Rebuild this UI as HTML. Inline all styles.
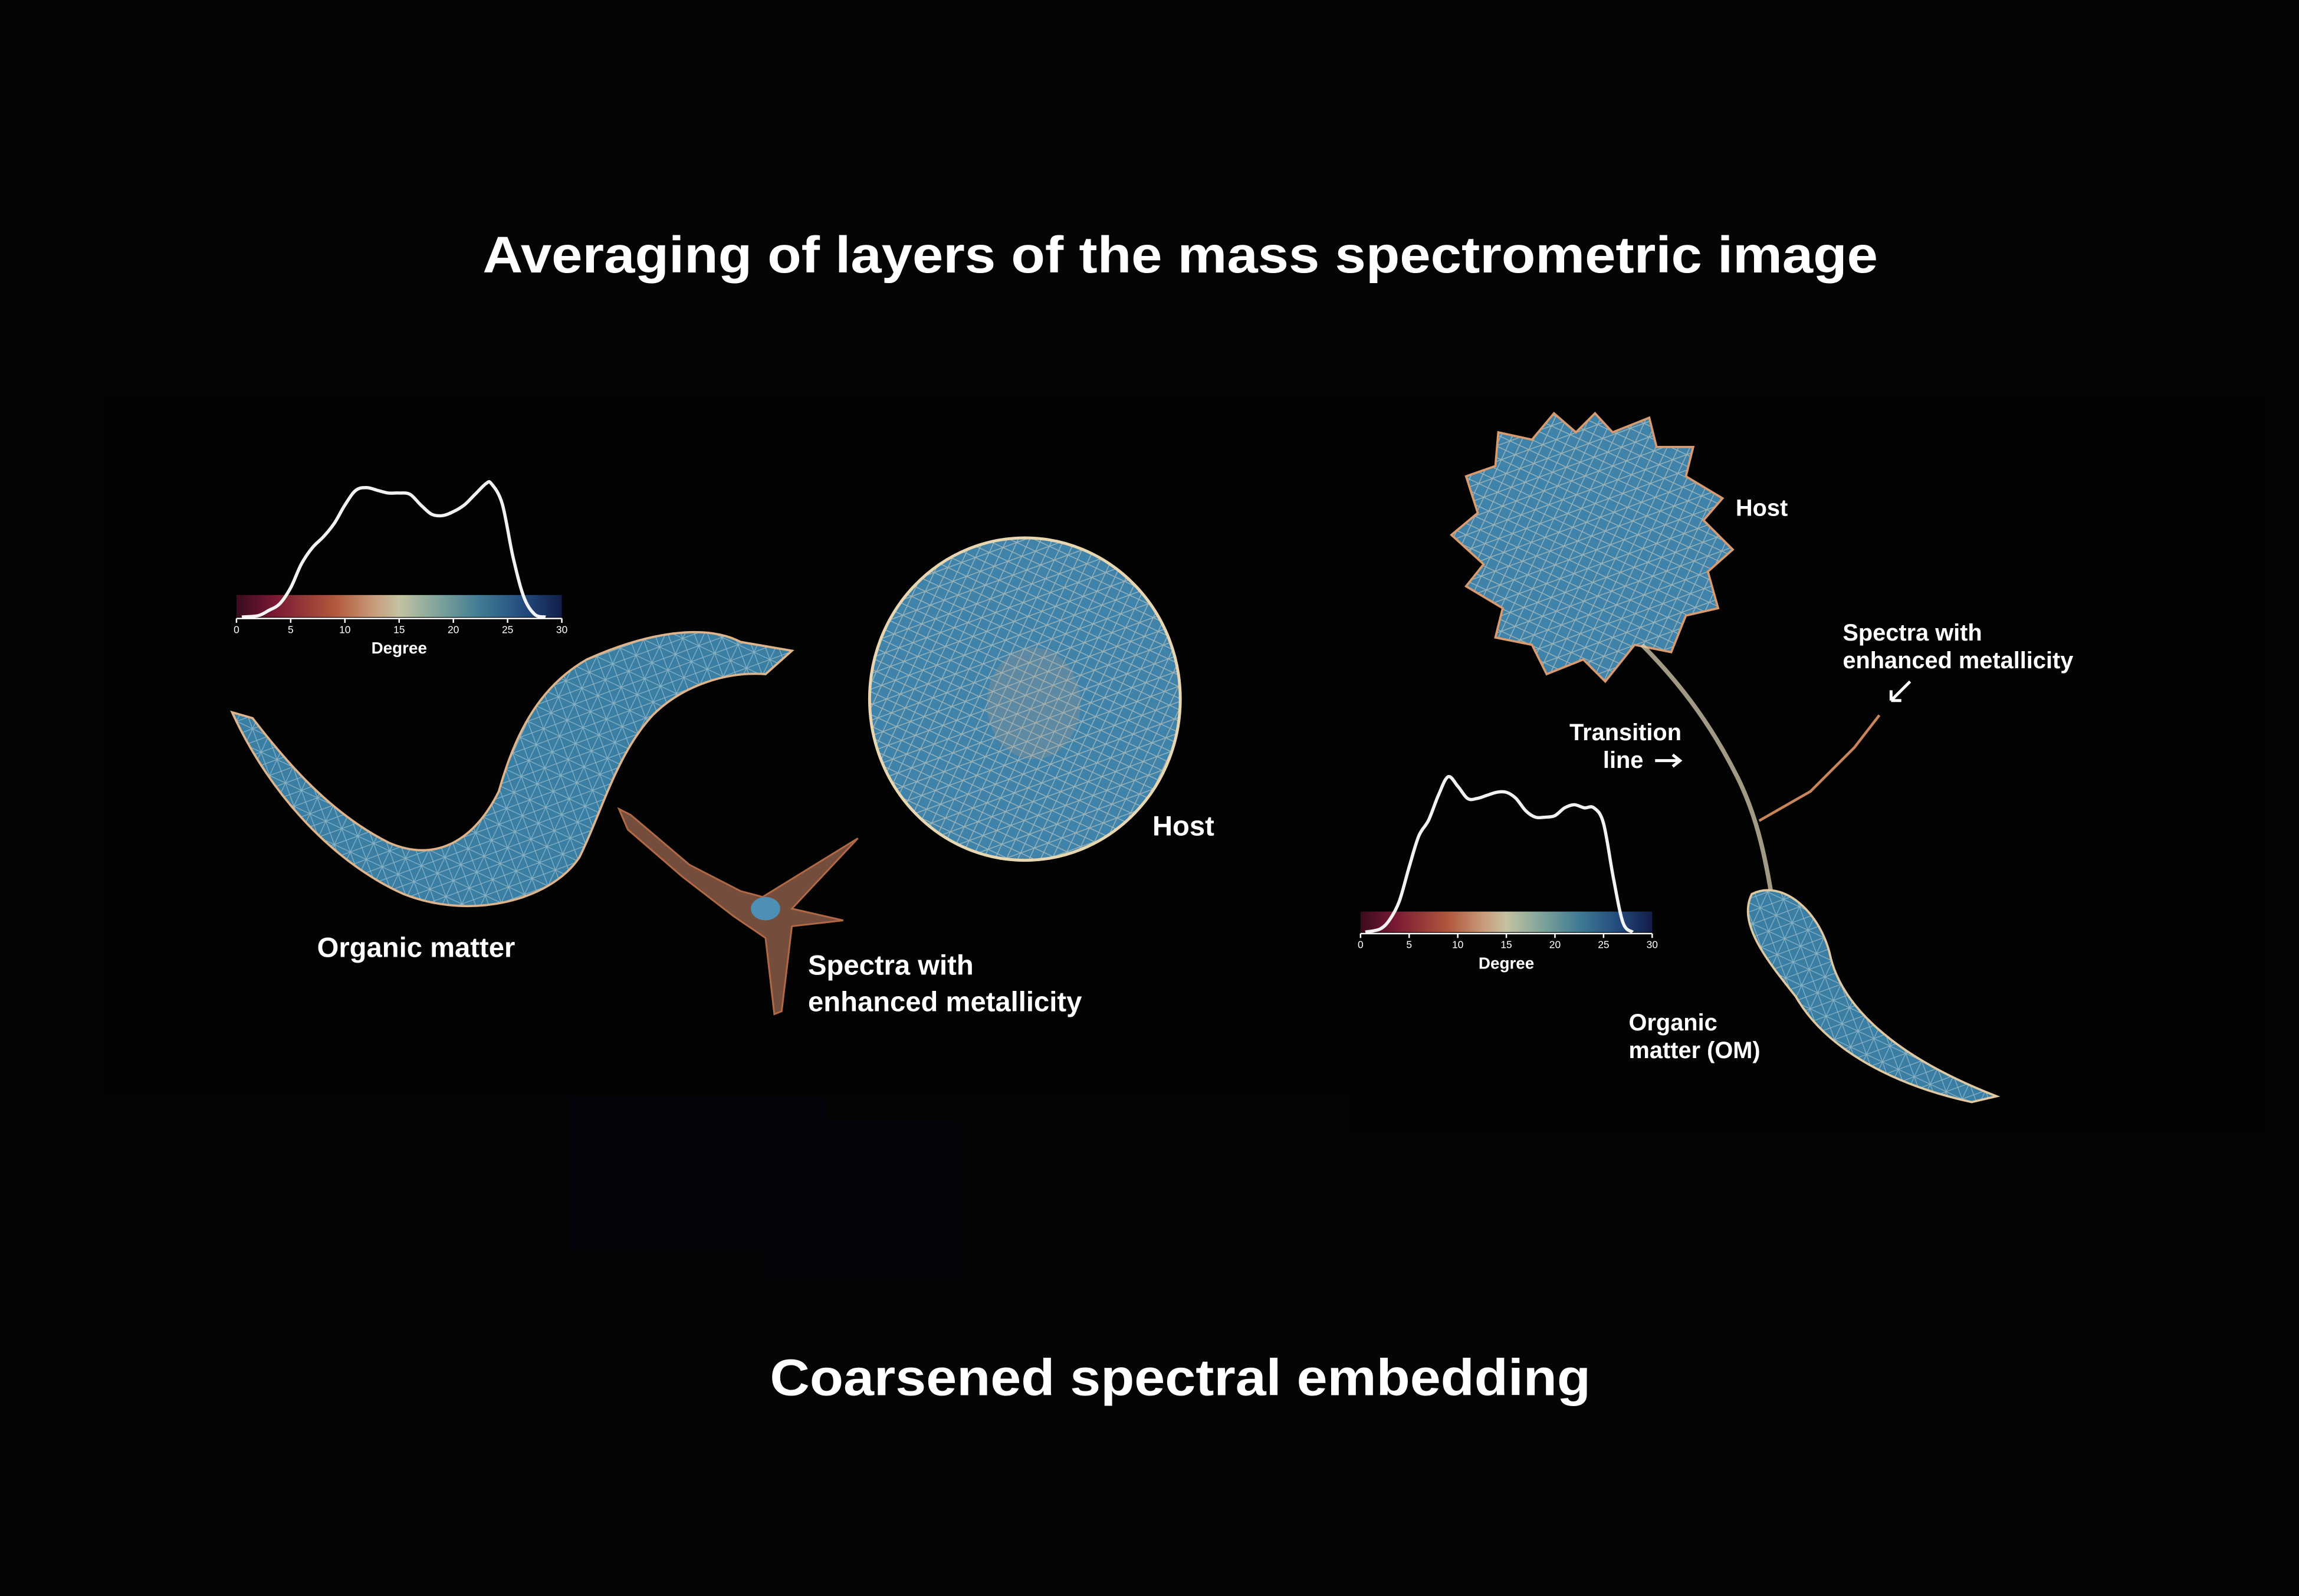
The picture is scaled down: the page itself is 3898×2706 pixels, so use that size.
<!DOCTYPE html>
<html><head><meta charset="utf-8">
<style>
html,body{margin:0;padding:0;background:#050505;}
svg{display:block}
text{font-family:"Liberation Sans",sans-serif;fill:#fff}
</style></head>
<body>
<svg id="fig" width="3898" height="2706" viewBox="0 0 1568 1089" xmlns="http://www.w3.org/2000/svg">
<defs>
<linearGradient id="cmap" x1="0" x2="1" y1="0" y2="0">
<stop offset="0" stop-color="#3a0a1e"/><stop offset="0.12" stop-color="#7a1a34"/>
<stop offset="0.3" stop-color="#b0573c"/><stop offset="0.42" stop-color="#c99a78"/>
<stop offset="0.5" stop-color="#c4c2a2"/><stop offset="0.62" stop-color="#7fa49a"/>
<stop offset="0.75" stop-color="#3f7a93"/><stop offset="0.88" stop-color="#234c7e"/>
<stop offset="1" stop-color="#121d48"/></linearGradient>
<pattern id="mesh" width="12" height="12" patternUnits="userSpaceOnUse" patternTransform="rotate(25)">
<rect width="12" height="12" fill="#3a7fa3"/>
<path d="M0 0L12 12M12 0L0 12M0 6H12M6 0V12" stroke="#d8e4e6" stroke-width="0.5" opacity="0.5"/>
</pattern>
<pattern id="mesh2" width="10" height="10" patternUnits="userSpaceOnUse" patternTransform="rotate(-20)">
<rect width="10" height="10" fill="#3f82aa"/>
<path d="M0 0L10 10M10 0L0 10M0 5H10" stroke="#e6dcc4" stroke-width="0.6" opacity="0.55"/>
</pattern>
</defs>
<rect width="1568" height="1089" fill="#050505"/>
<rect x="70" y="270" width="850" height="478" fill="#030303"/>
<rect x="920" y="270" width="625" height="505" fill="#030303"/>
<rect x="388" y="748" width="175" height="105" fill="#03030a"/>
<rect x="520" y="765" width="135" height="108" fill="#03030a"/>

<text x="805" y="186" font-size="35" font-weight="bold" text-anchor="middle" textLength="952" lengthAdjust="spacingAndGlyphs">Averaging of layers of the mass spectrometric image</text>
<text x="805" y="952" font-size="35" font-weight="bold" text-anchor="middle" textLength="560" lengthAdjust="spacingAndGlyphs">Coarsened spectral embedding</text>

<path d="M158 486 L172 490 C195 520 225 555 265 575 C300 590 325 570 340 540 C350 505 365 470 400 450 C440 432 480 425 505 438 L540 444 L522 460 C495 458 465 468 445 488 C420 515 410 555 395 585 C375 615 320 628 275 610 C230 590 185 545 158 486Z" fill="url(#mesh)" stroke="#e0b48a" stroke-width="1.5"/>
<ellipse cx="699" cy="477" rx="106" ry="110" fill="url(#mesh2)" stroke="#e8d6b0" stroke-width="2"/>
<ellipse cx="705" cy="480" rx="32" ry="38" fill="#c8a68a" opacity="0.22"/>
<path d="M422 552 L430 556 L470 590 L505 608 L520 612 L585 572 L540 620 L575 628 L540 632 L533 690 L528 692 L522 640 L500 625 L465 598 L428 566Z" fill="#8a5a48" stroke="#d07a50" stroke-width="1.2" opacity="0.85"/>
<ellipse cx="522" cy="620" rx="10" ry="8" fill="#4d8fb5"/>

<text x="216" y="653" font-size="19" font-weight="bold">Organic matter</text>
<text x="786" y="570" font-size="19" font-weight="bold">Host</text>
<text x="551" y="665" font-size="19" font-weight="bold">Spectra with</text>
<text x="551" y="690" font-size="19" font-weight="bold">enhanced metallicity</text>

<path d="M1088 282 L1100 295 L1125 285 L1130 305 L1155 305 L1150 325 L1175 340 L1162 355 L1182 375 L1165 390 L1172 415 L1150 420 L1140 445 L1115 440 L1095 465 L1080 450 L1055 460 L1045 440 L1020 435 L1025 415 L1000 400 L1012 385 L990 365 L1008 350 L1000 325 L1020 318 L1022 295 L1045 300 L1060 282 L1075 295Z" fill="url(#mesh2)" stroke="#d89a6e" stroke-width="1.5"/>
<path d="M1120 440 C1150 470 1170 500 1185 530 C1200 560 1205 590 1210 620" stroke="#d8cdb0" stroke-width="3" fill="none" opacity="0.75"/>
<path d="M1200 560 L1235 540 L1265 510 L1282 488" stroke="#c8845a" stroke-width="1.8" fill="none"/>
<path d="M1195 610 C1215 600 1240 620 1248 650 C1255 685 1290 720 1362 748 L1345 752 C1290 740 1245 715 1225 680 C1205 655 1185 630 1195 610Z" fill="url(#mesh)" stroke="#e0c8a0" stroke-width="1.5"/>
<text x="1184" y="352" font-size="16" font-weight="bold">Host</text>
<text x="1257" y="437" font-size="16" font-weight="bold">Spectra with</text>
<text x="1257" y="456" font-size="16" font-weight="bold">enhanced metallicity</text>
<path d="M1303 465 L1290 478 M1290 478 L1290 471 M1290 478 L1297 478" stroke="#fff" stroke-width="2" fill="none"/>
<text x="1147" y="505" font-size="16" font-weight="bold" text-anchor="end">Transition</text>
<text x="1121" y="524" font-size="16" font-weight="bold" text-anchor="end">line</text>
<path d="M1129 519 H1146 M1141 515 L1146 519 L1141 523" stroke="#fff" stroke-width="2" fill="none"/>
<text x="1111" y="703" font-size="16" font-weight="bold">Organic</text>
<text x="1111" y="722" font-size="16" font-weight="bold">matter (OM)</text>

<g id="legendL"></g>
<g id="legendR"></g>
</svg>
<script>
const tickValues = [0,5,10,15,20,25,30];
const leftDegree = [0.5,2,3,4,5,6,7,8,9,10,11,12,13,14,15,16,17,18,19,20,21,22,23,23.5,24.5,25.5,26.5,27.5,28.5];
const leftDensity = [0,0.01,0.05,0.1,0.22,0.4,0.52,0.6,0.7,0.84,0.95,0.97,0.95,0.93,0.93,0.92,0.84,0.77,0.76,0.79,0.84,0.92,1.0,1.0,0.85,0.45,0.15,0.02,0];
const rightDegree = [0.5,2,3,4,5,6,7,8,9,10,11,12,13,14,15,16,17,18,19,20,21,22,23,24,25,26,27,28];
const rightDensity = [0,0.02,0.08,0.2,0.42,0.62,0.72,0.88,1.0,0.94,0.86,0.86,0.88,0.9,0.9,0.86,0.78,0.74,0.74,0.75,0.8,0.82,0.8,0.8,0.7,0.35,0.06,0];
const NS="http://www.w3.org/2000/svg";
function mk(tag,attrs,parent){const e=document.createElementNS(NS,tag);for(const k in attrs)e.setAttribute(k,attrs[k]);parent.appendChild(e);return e;}
function smooth(pts){
  let d='M'+pts[0][0].toFixed(1)+' '+pts[0][1].toFixed(1);
  for(let i=0;i<pts.length-1;i++){
    const p0=pts[i-1]||pts[i],p1=pts[i],p2=pts[i+1],p3=pts[i+2]||p2;
    const c1=[p1[0]+(p2[0]-p0[0])/6,p1[1]+(p2[1]-p0[1])/6];
    const c2=[p2[0]-(p3[0]-p1[0])/6,p2[1]-(p3[1]-p1[1])/6];
    d+='C'+c1[0].toFixed(1)+' '+c1[1].toFixed(1)+' '+c2[0].toFixed(1)+' '+c2[1].toFixed(1)+' '+p2[0].toFixed(1)+' '+p2[1].toFixed(1);
  }
  return d;
}
function drawLegend(g,x0,x1,barTop,barBot,curveH,deg,dens,fs,name){
  const xs=v=>x0+(v/30)*(x1-x0);
  const ys=d=>barBot-d*curveH;
  const bar=mk('rect',{x:x0,y:barTop,width:x1-x0,height:barBot-barTop,fill:'url(#cmap)'},g);
  
  
  const pts=deg.map((v,i)=>[xs(v),ys(dens[i])]);
  const p=mk('path',{d:smooth(pts),fill:'none',stroke:'#fff','stroke-width':2.2,'stroke-linejoin':'round',opacity:0.95},g);
  
  
  mk('line',{x1:x0,x2:x1,y1:barBot+1,y2:barBot+1,stroke:'#fff','stroke-width':1},g);
  tickValues.forEach(v=>{
    mk('line',{x1:xs(v),x2:xs(v),y1:barBot+1,y2:barBot+4,stroke:'#fff','stroke-width':1},g);
    const t=mk('text',{x:xs(v),y:barBot+11,'font-size':fs,'text-anchor':'middle'},g);
    t.textContent=v;
    
    
  });
  const a=mk('text',{x:(x0+x1)/2,y:barBot+25,'font-size':fs*1.6,'font-weight':'bold','text-anchor':'middle'},g);
  a.textContent='Degree';
  
  
}
drawLegend(document.getElementById('legendL'),161,383,406,421,91,leftDegree,leftDensity,7,'left-legend');
drawLegend(document.getElementById('legendR'),928,1127,622,636,106,rightDegree,rightDensity,7,'right-legend');
</script>
</body></html>
